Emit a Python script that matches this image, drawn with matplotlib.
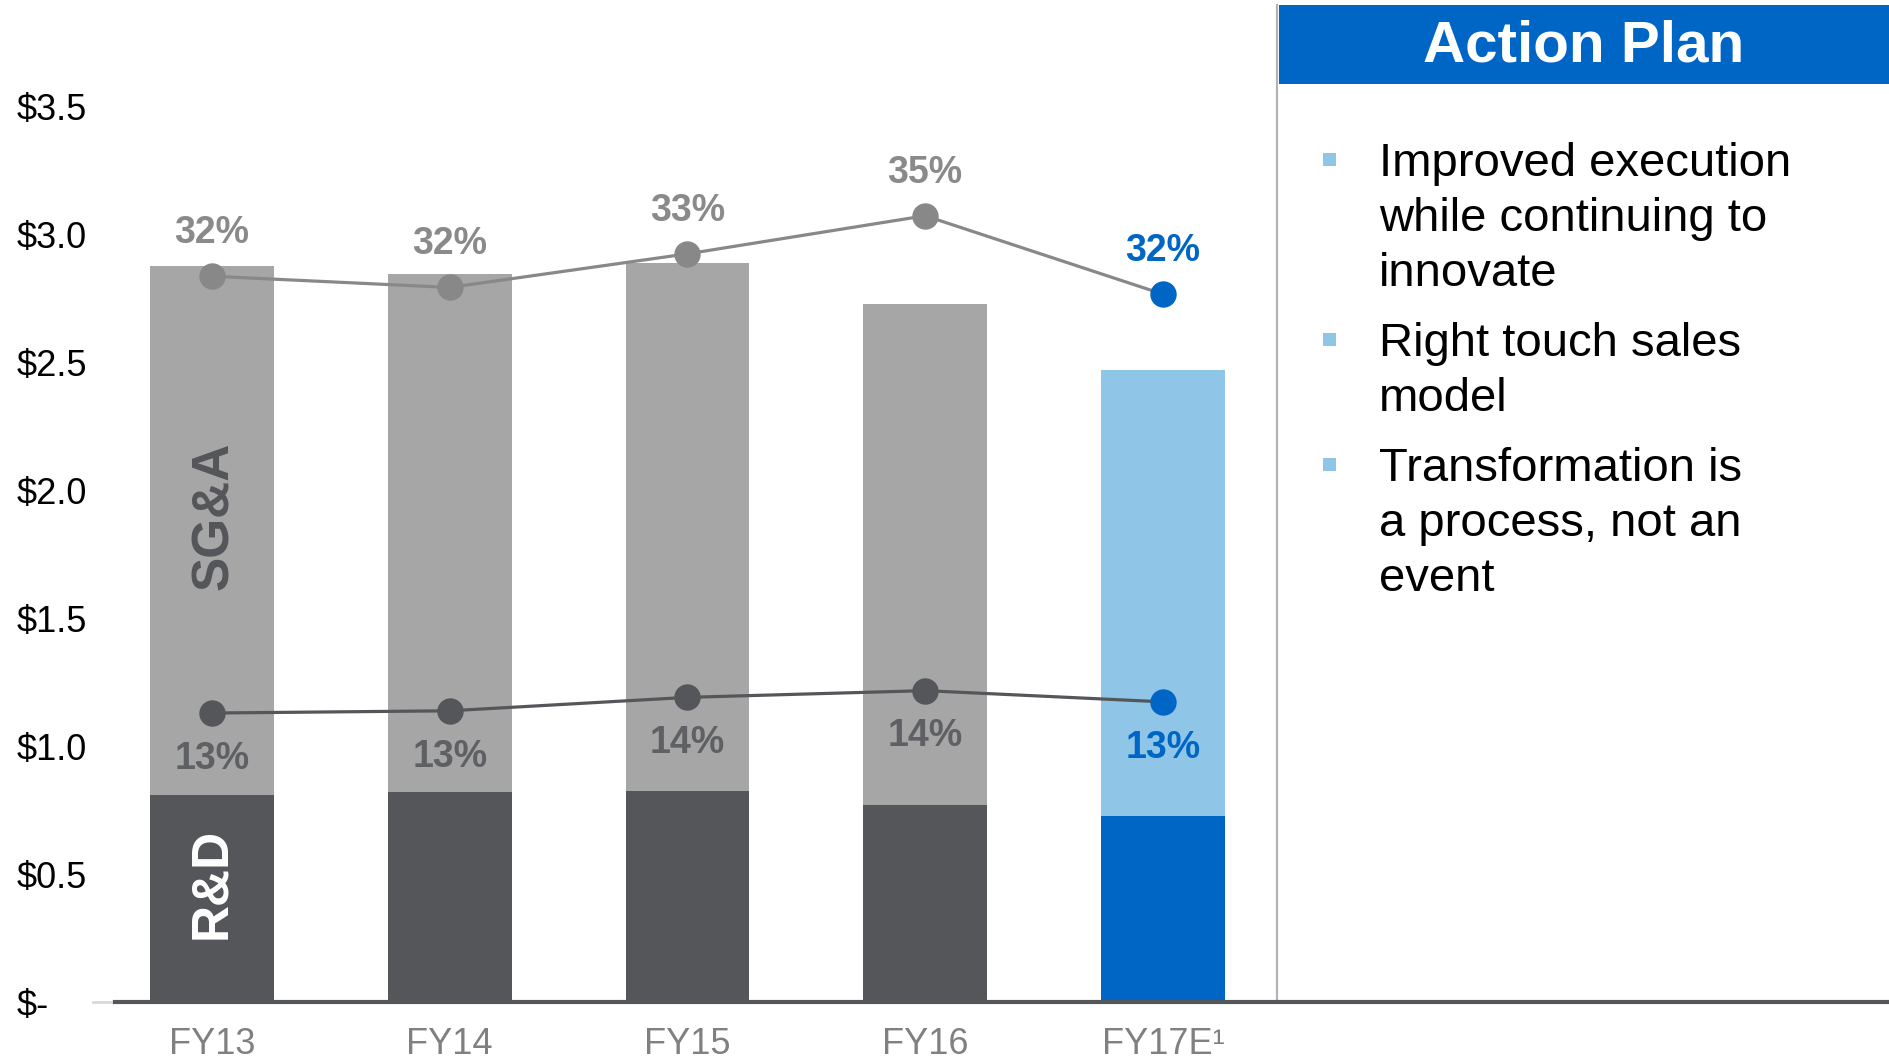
import numpy as np
import matplotlib
matplotlib.use("Agg")
import matplotlib.pyplot as plt
from matplotlib.lines import Line2D
from matplotlib.patches import Rectangle

plt.rcParams['font.family'] = ['Liberation Sans', 'DejaVu Sans']

# Operating expense data ($B) and ratios (% of revenue)
years = ["FY13", "FY14", "FY15", "FY16", "FY17E\u00b9"]
rd_spend = [0.81, 0.82, 0.825, 0.77, 0.725]
sga_spend = [2.065, 2.025, 2.06, 1.955, 1.745]
sga_pct = [32.4, 31.9, 33.4, 35.1, 31.6]
rd_pct = [12.9, 13.0, 13.6, 13.9, 13.4]
ytick_vals = [0, 0.5, 1.0, 1.5, 2.0, 2.5, 3.0, 3.5]
ytick_labels = ["$-", "$0.5", "$1.0", "$1.5", "$2.0", "$2.5", "$3.0", "$3.5"]
plan_items = [
    ["Improved execution", "while continuing to", "innovate"],
    ["Right touch sales", "model"],
    ["Transformation is", "a process, not an", "event"],
]

W, H = 1890, 1061
DARK = "#54565a"
GRAY = "#a6a6a6"
LINE_GRAY = "#888888"
BLUE = "#0066c6"
LIGHT_BLUE = "#8fc6e8"

fig = plt.figure(figsize=(W / 100, H / 100), dpi=100)


def fx(px):
    return px / W


def fy(py):
    return 1 - py / H


ax_left, ax_right, ax_top, ax_bottom = 115, 1277, 106, 1002
ax = fig.add_axes([fx(ax_left), fy(ax_bottom), fx(ax_right - ax_left),
                   (ax_bottom - ax_top) / H])

x = np.arange(len(years))
rd_colors = [DARK] * 4 + [BLUE]
sga_colors = [GRAY] * 4 + [LIGHT_BLUE]
ax.bar(x, rd_spend, width=0.52, color=rd_colors, zorder=2)
ax.bar(x, sga_spend, width=0.52, bottom=rd_spend, color=sga_colors, zorder=2)

ax.set_xlim(-0.408, 4.48)
ax.set_ylim(0, 3.5)
ax.set_xticks(x)
ax.set_xticklabels(years, fontsize=26, color="#808080")
ax.tick_params(axis="x", length=0, pad=18)
ax.set_yticks(ytick_vals)
ax.set_yticklabels(ytick_labels, fontsize=26, color="black", ha="left")
ax.tick_params(axis="y", length=0, pad=71)
for s in ax.spines.values():
    s.set_visible(False)

# Segment labels inside the first bar
ax.text(0, 0.81 / 2 + 0.06, "R&D", rotation=90, ha="center", va="center",
        fontsize=37, fontweight="bold", color="white", zorder=3)
ax.text(0.01, 1.90, "SG&A", rotation=90, ha="center", va="center",
        fontsize=37, fontweight="bold", color=DARK, zorder=3)

# Ratio lines on a secondary percentage scale
ax2 = ax.twinx()
ax2.set_ylim(0, 40)
ax2.set_xlim(ax.get_xlim())
ax2.axis("off")

ax2.plot(x, sga_pct, color=LINE_GRAY, lw=2.3, zorder=3)
ax2.plot(x, rd_pct, color=DARK, lw=2.3, zorder=3)
pt_up = [LINE_GRAY] * 4 + [BLUE]
pt_lo = [DARK] * 4 + [BLUE]
for i in range(len(years)):
    ax2.plot(x[i], sga_pct[i], "o", ms=18, color=pt_up[i], zorder=4)
    ax2.plot(x[i], rd_pct[i], "o", ms=18, color=pt_lo[i], zorder=4)
    up_c = BLUE if i == 4 else "#8a8a8a"
    lo_c = BLUE if i == 4 else "#5f6063"
    ax2.annotate(f"{sga_pct[i]:.0f}%", (x[i], sga_pct[i]), xytext=(0, 31),
                 textcoords="offset points", ha="center", va="center",
                 fontsize=27, fontweight="bold", color=up_c, zorder=5)
    ax2.annotate(f"{rd_pct[i]:.0f}%", (x[i], rd_pct[i]), xytext=(0, -33),
                 textcoords="offset points", ha="center", va="center",
                 fontsize=27, fontweight="bold", color=lo_c, zorder=5)

# Baseline running under the chart and the side panel
fig.add_artist(Line2D([fx(93), fx(115)], [fy(1002), fy(1002)],
                      color="#d9d9d9", lw=2))
fig.add_artist(Line2D([fx(115), fx(1890)], [fy(1002), fy(1002)],
                      color=DARK, lw=3, zorder=10))
# Divider between chart and panel
fig.add_artist(Line2D([fx(1277), fx(1277)], [fy(5), fy(1000)],
                      color="#b4b4b4", lw=1.6))

# Action plan panel
fig.add_artist(Rectangle((fx(1279), fy(84)), fx(1890 - 1279), (84 - 5) / H,
                         color=BLUE, lw=0))
fig.text(fx(1584), fy(46), "Action Plan", ha="center", va="center",
         fontsize=42, fontweight="bold", color="white")

starts = [164, 344, 469]
step = 55
for start, lines in zip(starts, plan_items):
    fig.add_artist(Rectangle((fx(1323), fy(start + 2)), fx(13), 13 / H,
                             color=LIGHT_BLUE, lw=0))
    for j, line in enumerate(lines):
        fig.text(fx(1379), fy(start + j * step), line, ha="left",
                 va="center", fontsize=34, color="black")

fig.savefig("out.png", dpi=100)
